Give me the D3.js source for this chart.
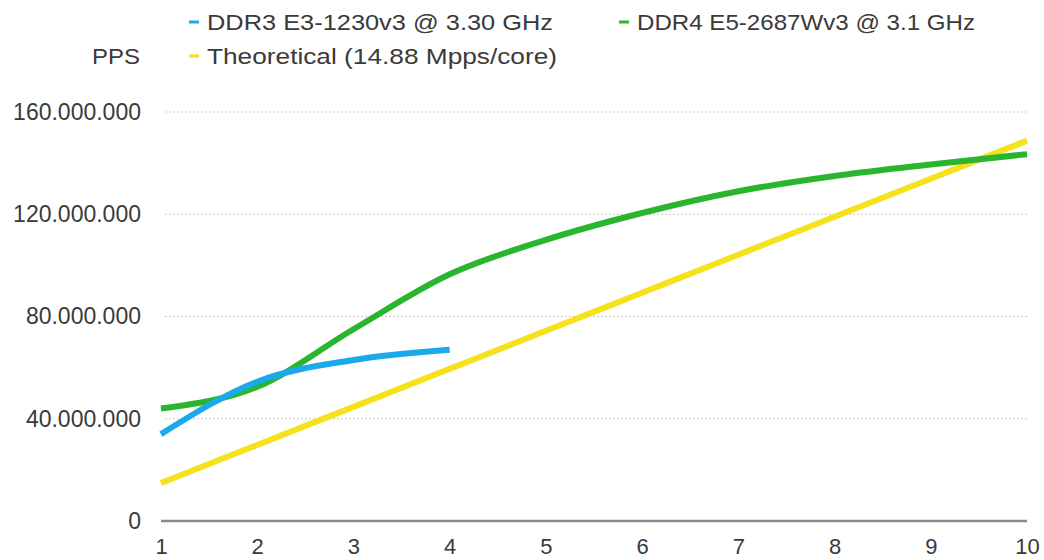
<!DOCTYPE html>
<html><head><meta charset="utf-8">
<script src="https://cdn.jsdelivr.net/npm/d3@7"></script>
<style>body{margin:0;background:#fff}text{font-family:"Liberation Sans",Arial,sans-serif}</style>
</head><body><svg id="c" width="1044" height="560"></svg>
<script>
const cores = [1,2,3,4,5,6,7,8,9,10];
const ddr3 = [34000000, 54500000, 63000000, 67000000];
const ddr4 = [44000000, 52500000, 75000000, 96500000, 110000000, 120500000, 129000000, 135000000, 139500000, 143500000];
const theoretical = [14880000, 29760000, 44640000, 59520000, 74400000, 89280000, 104160000, 119040000, 133920000, 148800000];
const yTicks = [0, 40000000, 80000000, 120000000, 160000000];
const yTickLabels = ["0", "40.000.000", "80.000.000", "120.000.000", "160.000.000"];
const seriesNames = ["DDR3 E3-1230v3 @ 3.30 GHz", "DDR4 E5-2687Wv3 @ 3.1 GHz", "Theoretical (14.88 Mpps/core)"];
const colors = ["#1ba9ea", "#2ab52f", "#f6e11c"];

const svg = d3.select("#c");
const x = d3.scaleLinear().domain([1,10]).range([161,1027]);
const y = d3.scaleLinear().domain([0,160000000]).range([521,112]);

// gridlines
svg.append("g").selectAll("line").data(yTicks.slice(1)).join("line")
  .attr("x1", 165).attr("x2", 1027).attr("y1", d=>y(d)).attr("y2", d=>y(d))
  .attr("stroke", "#c8c8c8").attr("stroke-width", 1.2).attr("stroke-dasharray", "2,2");

// y axis labels
const yAxis = d3.axisLeft(y).tickValues(yTicks).tickSize(0).tickPadding(20)
  .tickFormat((d,i)=>yTickLabels[i]);
const gy = svg.append("g").attr("transform", "translate(161,0)").call(yAxis);
gy.select(".domain").remove();
gy.selectAll("text").attr("font-size", 23).attr("fill", "#3a3a3a").attr("font-family", "Liberation Sans, Arial, sans-serif");

// x axis
const xAxis = d3.axisBottom(x).tickValues(cores).tickSize(0).tickPadding(17).tickFormat(d3.format("d"));
const gx = svg.append("g").attr("transform", "translate(0,521)").call(xAxis);
gx.select(".domain").remove();
gx.selectAll("text").attr("font-size", 22).attr("fill", "#3a3a3a").attr("font-family", "Liberation Sans, Arial, sans-serif");
svg.append("line").attr("x1", x(1)).attr("x2", x(10)).attr("y1", y(0)).attr("y2", y(0))
  .attr("stroke", "#8a8a8a").attr("stroke-width", 2.5);

// lines
const line = d3.line().x((d,i)=>x(cores[i])).y(d=>y(d)).curve(d3.curveMonotoneX);
[[theoretical,2],[ddr4,1],[ddr3,0]].forEach(([data,ci])=>{
  svg.append("path").datum(data).attr("d", line).attr("fill","none")
    .attr("stroke", colors[ci]).attr("stroke-width", 6).attr("stroke-linecap","butt");
});

// legend
const leg = [{i:0,x:189,y:22,w:346},{i:1,x:619,y:22,w:338},{i:2,x:189,y:56,w:350}];
leg.forEach(l=>{
  svg.append("line").attr("x1", l.x).attr("x2", l.x+10).attr("y1", l.y).attr("y2", l.y)
    .attr("stroke", colors[l.i]).attr("stroke-width", 3);
  svg.append("text").attr("x", l.x+18).attr("y", l.y+8).attr("font-size", 22).attr("fill", "#3a3a3a")
    .attr("textLength", l.w).attr("lengthAdjust", "spacingAndGlyphs")
    .text(seriesNames[l.i]);
});
svg.append("text").attr("x", 92).attr("y", 64).attr("font-size", 22).attr("fill", "#3a3a3a")
  .attr("textLength", 48).attr("lengthAdjust", "spacingAndGlyphs").text("PPS");
</script></body></html>
